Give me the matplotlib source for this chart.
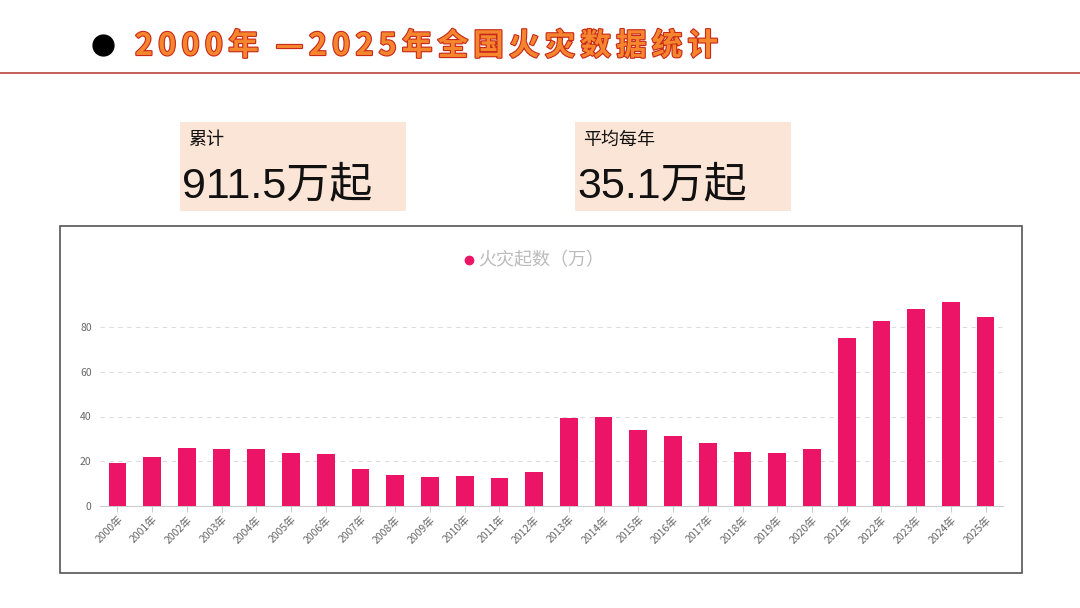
import matplotlib.pyplot as plt
from matplotlib import patheffects as pe
from matplotlib.patches import Rectangle

plt.rcParams['font.family'] = ['Noto Sans CJK SC', 'DejaVu Sans']

years = [f"{y}年" for y in range(2000, 2026)]
fires = [19.1, 21.9, 26.1, 25.6, 25.5, 23.8, 23.4, 16.5, 13.9, 13.1, 13.4, 12.7, 15.3,
         39.2, 39.8, 34.1, 31.4, 28.3, 24.0, 23.5, 25.5, 75.1, 82.8, 88.0, 91.2, 84.5]
total_label = "911.5万起"
avg_label = "35.1万起"
title = "2000年 —2025年全国火灾数据统计"
series_name = "火灾起数（万）"

W, H = 1080, 608
BAR = "#EC1466"


def fx(px):
    return px / W


def fy(py):
    return 1 - py / H


fig = plt.figure(figsize=(W / 100, H / 100), dpi=100)
fig.patch.set_facecolor("white")
renderer = fig.canvas.get_renderer()

# header: bullet, letter-spaced title, red rule
fig.add_artist(plt.Line2D([fx(103)], [fy(45)], marker="o", markersize=15,
                          color="black", transform=fig.transFigure))
title_fx = [pe.withStroke(linewidth=1.6, foreground="#C8281A")]
chars = []
for ch in title:
    t = fig.text(0, fy(46), ch, fontsize=22, fontweight="bold", color="#F5862E",
                 ha="left", va="center", path_effects=title_fx)
    chars.append((t, t.get_window_extent(renderer).width))
gap = (718 - 135 - sum(w for _, w in chars)) / (len(chars) - 1)
pos = 135
for t, w in chars:
    t.set_x(fx(pos))
    pos += w + gap
fig.add_artist(plt.Line2D([0, 1], [fy(73), fy(73)], color="#C0504D", lw=1.3,
                          transform=fig.transFigure))

# summary cards
for x0, x1, label, value in [(180, 406, "累计", total_label), (575, 791, "平均每年", avg_label)]:
    fig.add_artist(Rectangle((fx(x0), fy(211)), fx(x1 - x0), (211 - 122) / H,
                             transform=fig.transFigure, facecolor="#FBE5D6", edgecolor="none"))
    fig.text(fx(x0 + 8), fy(140), label, fontsize=13, color="#111111", ha="left", va="center")
    fig.text(fx(x0 + 2), fy(186), value, fontsize=31, color="#111111", ha="left", va="center",
             family=["Liberation Sans", "Noto Sans CJK SC"])

# chart frame
fig.add_artist(Rectangle((fx(60), fy(573)), fx(1022 - 60), (573 - 226) / H,
                         transform=fig.transFigure, facecolor="none", edgecolor="#555555", lw=1.2))

# legend
fig.add_artist(plt.Line2D([fx(469)], [fy(260)], marker="o", markersize=6, color=BAR,
                          transform=fig.transFigure))
fig.text(fx(478), fy(260), series_name, fontsize=13, color="#BBBBBB", ha="left", va="center")

# bar chart
ymax = 92
ax = fig.add_axes([fx(100), fy(506), fx(1003 - 100), (ymax * 2.2375) / H])
x = range(len(years))
ax.bar(x, fires, width=0.51, color=BAR, zorder=3)
ax.set_xlim(-0.5, len(years) - 0.5)
ax.set_ylim(0, ymax)
ax.set_yticks([0, 20, 40, 60, 80])
ax.yaxis.grid(True, linestyle=(0, (4, 4)), color="#DDDDDD", lw=0.8, zorder=0)
ax.set_xticks(list(x))
ax.set_xticklabels(years, rotation=45, ha="right", rotation_mode="anchor",
                   fontsize=7.5, color="#666666")
ax.tick_params(axis="y", length=0, labelsize=7.5, labelcolor="#666666", pad=6)
ax.tick_params(axis="x", length=4, color="#CCCCCC", pad=2)
for s in ["top", "right", "left"]:
    ax.spines[s].set_visible(False)
ax.spines["bottom"].set_color("#CCCCCC")
ax.set_facecolor("none")

fig.savefig("out.png", dpi=100)
